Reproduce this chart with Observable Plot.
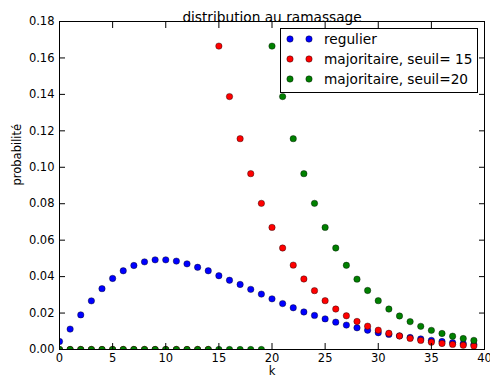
<!DOCTYPE html>
<html>
<head>
<meta charset="utf-8">
<script src="https://cdn.jsdelivr.net/npm/d3@7"></script>
<script src="https://cdn.jsdelivr.net/npm/@observablehq/plot@0.6"></script>
<style>
  html, body { margin: 0; padding: 0; background: white; }
</style>
</head>
<body>
<div id="chart"></div>
<script>
const ks = d3.range(0, 40);
const regulier = [0.0044, 0.0112, 0.0190, 0.0267, 0.0334, 0.0390, 0.0432, 0.0461, 0.0481, 0.0492,
  0.0492, 0.0485, 0.0470, 0.0451, 0.0432, 0.0405, 0.0380, 0.0357, 0.0330, 0.0304,
  0.0278, 0.0252, 0.0229, 0.0206, 0.0187, 0.0168, 0.0150, 0.0134, 0.0119, 0.0106,
  0.0092, 0.0083, 0.0075, 0.0066, 0.0058, 0.0050, 0.0044, 0.0038, 0.0032, 0.0027];
const seuil15 = [0, 0, 0, 0, 0, 0, 0, 0, 0, 0, 0, 0, 0, 0, 0,
  0.1665, 0.1388, 0.1157, 0.0965, 0.0802, 0.0670, 0.0557, 0.0463, 0.0387, 0.0323,
  0.0268, 0.0222, 0.0185, 0.0154, 0.0128, 0.0106, 0.0089, 0.0074, 0.0061, 0.0050,
  0.0040, 0.0033, 0.0028, 0.0023, 0.0019];
const seuil20 = [0, 0, 0, 0, 0, 0, 0, 0, 0, 0, 0, 0, 0, 0, 0, 0, 0, 0, 0, 0,
  0.1665, 0.1388, 0.1157, 0.0965, 0.0802, 0.0670, 0.0557, 0.0462, 0.0386, 0.0324,
  0.0268, 0.0222, 0.0184, 0.0153, 0.0127, 0.0105, 0.0088, 0.0073, 0.0060, 0.0050];
const seriesNames = ["regulier", "majoritaire, seuil= 15", "majoritaire, seuil=20"];
const seriesColors = ["#0000ff", "#ff0000", "#008000"];
const xTicks = [0, 5, 10, 15, 20, 25, 30, 35, 40];
const yTicks = [0, 0.02, 0.04, 0.06, 0.08, 0.10, 0.12, 0.14, 0.16, 0.18];
const titleText = "distribution au ramassage";
const xLabel = "k";
const yLabel = "probabilité";

const allSeries = [regulier, seuil15, seuil20];
const data = [];
allSeries.forEach((vals, si) => {
  vals.forEach((v, i) => data.push({k: ks[i], p: v, s: seriesNames[si]}));
});

const font = "DejaVu Sans, sans-serif";
const dotR = 3.2;

const plot = Plot.plot({
  width: 490,
  height: 383,
  marginLeft: 59,
  marginRight: 6,
  marginTop: 21,
  marginBottom: 34,
  style: {fontFamily: font, background: "white", color: "black"},
  x: {domain: [0, 40]},
  y: {domain: [0, 0.18]},
  color: {domain: seriesNames, range: seriesColors},
  marks: [
    Plot.dot(data, {x: "k", y: "p", fill: "s", stroke: "black", strokeWidth: 0.4, r: dotR, clip: "frame"}),
    Plot.frame({stroke: "black", strokeWidth: 1}),
    Plot.axisX(xTicks, {anchor: "bottom", tickSize: -6, tickPadding: 10, tickFormat: d => String(d), fontSize: 11.5, label: null}),
    Plot.axisX(xTicks, {anchor: "top", tickSize: -6, tickFormat: () => "", label: null}),
    Plot.axisY(yTicks, {anchor: "left", tickSize: -6, tickPadding: 11, tickFormat: d3.format(".2f"), fontSize: 11.5, label: null}),
    Plot.axisY(yTicks, {anchor: "right", tickSize: -6, tickFormat: () => "", label: null}),
    Plot.text([titleText], {frameAnchor: "top", dy: -9, fontSize: 13.7, fill: "black"}),
    Plot.text([xLabel], {frameAnchor: "bottom", dy: 25, fontSize: 11.5, fill: "black"}),
    Plot.text([yLabel], {frameAnchor: "left", dx: -42, rotate: -90, fontSize: 11.5, fill: "black"})
  ]
});

document.getElementById("chart").appendChild(plot);

// legend
const svg = d3.select(plot);
const lg = svg.append("g").attr("font-family", font).attr("font-size", 13.7).attr("text-anchor", "start");
lg.append("rect").attr("x", 280.5).attr("y", 28.5).attr("width", 197).attr("height", 64)
  .attr("fill", "white").attr("stroke", "black").attr("stroke-width", 1);
seriesNames.forEach((name, i) => {
  const yy = 39 + i * 20;
  [290, 309].forEach(xx => {
    lg.append("circle").attr("cx", xx).attr("cy", yy).attr("r", dotR)
      .attr("fill", seriesColors[i]).attr("stroke", "black").attr("stroke-width", 0.4);
  });
  lg.append("text").attr("x", 324).attr("y", yy).attr("dy", "0.35em")
    .attr("text-anchor", "start").attr("fill", "black").text(name);
});
</script>
</body>
</html>
